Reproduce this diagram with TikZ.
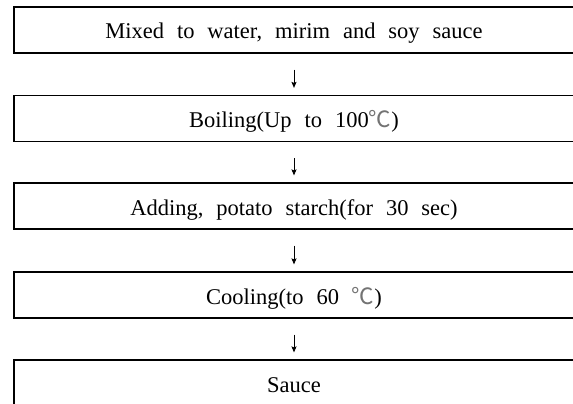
\documentclass[tikz,border=0pt]{standalone}
\usepackage{fontspec}
\setmainfont{Liberation Serif}[WordSpace=2.3]
\newfontfamily\cjk{Noto Sans CJK KR}
\usetikzlibrary{arrows.meta}
% thin full-width Celsius sign
\newcommand{\degC}{{\cjk\color{black!55}℃}}
\begin{document}
\begin{tikzpicture}[x=1pt,y=1pt,
  stepbox/.style={draw=black, line width=1.2pt, minimum width=560pt, minimum height=46pt,
    inner sep=0pt, text height=20pt, text depth=2pt,
    font=\fontsize{22.5}{26}\selectfont, text=black},
  flow/.style={line width=0.9pt, shorten <=16pt, shorten >=7pt,
    -{Stealth[length=6pt,width=5pt,inset=1pt]}}]
  \useasboundingbox (0,0) rectangle (573,-404);
  \clip (0,0) rectangle (573,-404);
  \node[stepbox] (b1) at (294,-30)    {Mixed to water, mirim and soy sauce};
  \node[stepbox] (b2) at (294,-118.5) {Boiling(Up to 100\degC)};
  \node[stepbox] (b3) at (294,-206)   {Adding, potato starch(for 30 sec)};
  \node[stepbox] (b4) at (294,-295)   {Cooling(to 60 \degC)};
  \node[stepbox] (b5) at (294,-383)   {Sauce};
  \draw[flow] (b1) -- (b2);
  \draw[flow] (b2) -- (b3);
  \draw[flow] (b3) -- (b4);
  \draw[flow] (b4) -- (b5);
\end{tikzpicture}
\end{document}
